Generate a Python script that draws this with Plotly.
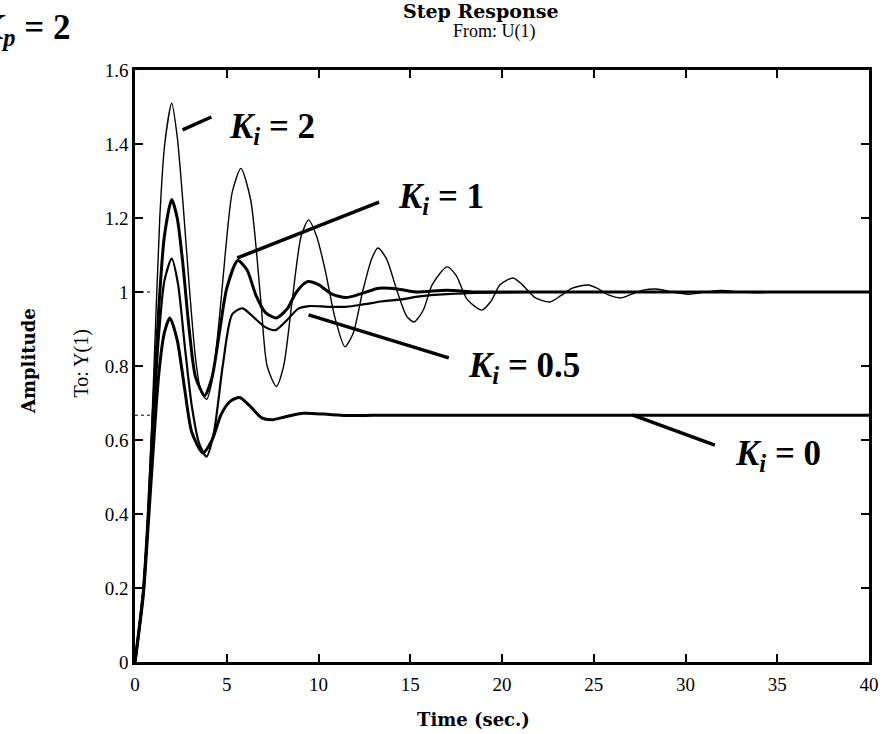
import plotly.graph_objects as go

# ---- data ----
t_ki2 = [0, 0.45, 0.72, 1.0, 1.35, 1.62, 2.0, 2.3, 2.6, 2.95, 3.3, 3.6, 3.9, 4.2, 4.6, 4.95, 5.3, 5.77,
         6.3, 6.85, 7.2, 7.7, 8.1, 8.55, 9.05, 9.46, 9.9, 10.36, 10.9, 11.44, 11.9, 12.4, 12.9, 13.24,
         13.7, 14.3, 14.8, 15.2, 15.7, 16.2, 17.0, 17.5, 18.1, 18.9, 19.4, 19.9, 20.6, 21.1, 21.8, 22.6,
         23.2, 23.8, 24.7, 25.2, 25.8, 26.5, 27.1, 27.7, 28.4, 29.3, 30.2, 31.1, 32.0, 33.0, 34.0, 35.5, 37, 40]
y_ki2 = [0, 0.2, 0.42, 0.75, 1.2, 1.4, 1.51, 1.42, 1.25, 1.02, 0.82, 0.73, 0.71, 0.76, 0.93, 1.12, 1.27, 1.334,
         1.25, 0.98, 0.8, 0.745, 0.8, 0.97, 1.15, 1.195, 1.15, 1.06, 0.93, 0.852, 0.89, 1.0, 1.09, 1.119,
         1.09, 1.0, 0.935, 0.919, 0.95, 1.02, 1.068, 1.045, 0.98, 0.951, 0.975, 1.02, 1.038, 1.02, 0.985, 0.973,
         0.99, 1.01, 1.019, 1.01, 0.992, 0.984, 0.995, 1.005, 1.008, 1.0, 0.994, 1.0, 1.004, 1.0, 0.998, 1.001, 1.0, 1.0]

t_ki1 = [0, 0.45, 0.72, 1.0, 1.3, 1.6, 2.0, 2.3, 2.6, 2.95, 3.3, 3.8, 4.2, 4.6, 5.0, 5.6, 6.1, 6.6, 7.1, 7.7,
         8.3, 8.8, 9.4, 10.0, 10.7, 11.5, 12.3, 13.3, 14.3, 15.3, 17.0, 18.5, 20, 25, 40]
y_ki1 = [0, 0.19, 0.4, 0.68, 0.96, 1.15, 1.25, 1.2, 1.08, 0.9, 0.77, 0.72, 0.77, 0.89, 1.01, 1.085, 1.06, 0.99, 0.945, 0.93,
         0.955, 1.0, 1.028, 1.02, 0.995, 0.985, 0.995, 1.01, 1.008, 1.0, 1.005, 1.0, 1.0, 1.0, 1.0]

t_ki05 = [0, 0.45, 0.72, 1.0, 1.3, 1.6, 2.0, 2.35, 2.7, 3.1, 3.5, 3.9, 4.3, 4.78, 5.3, 5.86, 6.5, 7.1, 7.66,
          8.3, 8.9, 9.5, 10.5, 11.5, 12.5, 13.5, 14.5, 15.5, 17, 19, 22, 40]
y_ki05 = [0, 0.19, 0.39, 0.64, 0.88, 1.03, 1.09, 1.02, 0.86, 0.69, 0.59, 0.555, 0.62, 0.8, 0.94, 0.956, 0.93, 0.905, 0.897,
          0.925, 0.955, 0.962, 0.96, 0.96, 0.967, 0.975, 0.98, 0.988, 0.994, 0.998, 1.0, 1.0]

t_ki0 = [0, 0.45, 0.72, 1.0, 1.3, 1.6, 1.9, 2.3, 2.7, 3.1, 3.7, 4.2, 4.7, 5.2, 5.7, 6.3, 6.9, 7.5, 8.2, 9.2,
         10.3, 11.5, 13, 40]
y_ki0 = [0, 0.18, 0.37, 0.58, 0.78, 0.89, 0.93, 0.87, 0.74, 0.62, 0.565, 0.6, 0.67, 0.705, 0.715, 0.69, 0.66, 0.655,
         0.663, 0.672, 0.67, 0.666, 0.667, 0.667]

steady_values = [1.0, 0.667]
steady_stub_t = [0, 1.0]

x_ticks = [0, 5, 10, 15, 20, 25, 30, 35, 40]
y_ticks = [0, 0.2, 0.4, 0.6, 0.8, 1.0, 1.2, 1.4, 1.6]
y_tick_text = ["0", "0.2", "0.4", "0.6", "0.8", "1", "1.2", "1.4", "1.6"]

labels = ["2", "1", "0.5", "0"]
label_pos = [(5.03, 1.443), (14.2, 1.254), (18.05, 0.795), (32.6, 0.557)]
pointer_from = [(2.59, 1.438), (5.57, 1.092), (9.46, 0.938), (27.1, 0.668)]
pointer_to = [(4.16, 1.473), (13.3, 1.243), (17.1, 0.822), (31.6, 0.586)]

# ---- figure ----
fig = go.Figure()
for yv in steady_values:
    fig.add_trace(go.Scatter(x=steady_stub_t, y=[yv, yv], mode="lines",
                             line=dict(color="black", width=1, dash="dot"), hoverinfo="skip"))

series = [(t_ki0, y_ki0, 3.0), (t_ki05, y_ki05, 2.2), (t_ki1, y_ki1, 3.0), (t_ki2, y_ki2, 1.4)]
for tx, ty, w in series:
    fig.add_trace(go.Scatter(x=tx, y=ty, mode="lines",
                             line=dict(color="black", width=w, shape="spline", smoothing=0.7)))

for (x0, y0), (x1, y1) in zip(pointer_from, pointer_to):
    fig.add_shape(type="line", xref="x", yref="y", x0=x0, y0=y0, x1=x1, y1=y1,
                  line=dict(color="black", width=3.5))

big = dict(family="Liberation Serif", size=35, color="black")
for lab, (lx, ly) in zip(labels, label_pos):
    fig.add_annotation(x=lx, y=ly, xref="x", yref="y", xanchor="left", yanchor="middle",
                       text=f"<b><i>K</i><sub><i>i</i></sub> = {lab}</b>", showarrow=False, font=big)

def px_x(p):
    return (p - 135) / 741.0

def px_y(p):
    return (662 - p) / 592.0

fig.add_annotation(x=px_x(72), y=px_y(6), xref="paper", yref="paper", xanchor="right", yanchor="top",
                   text="<b><i>K</i><sub><i>p</i></sub> = 2</b>", showarrow=False, font=big)

bold = dict(family="DejaVu Serif", size=18, color="black")
reg = dict(family="Liberation Serif", size=18, color="black")
fig.add_annotation(x=px_x(484), y=px_y(11), xref="paper", yref="paper", xanchor="center", yanchor="middle",
                   text="<b>Step Response</b>", showarrow=False, font=dict(family="DejaVu Serif", size=19, color="black"))
fig.add_annotation(x=px_x(498), y=px_y(31), xref="paper", yref="paper", xanchor="center", yanchor="middle",
                   text="From: U(1)", showarrow=False, font=reg)
fig.add_annotation(x=px_x(27), y=px_y(361), xref="paper", yref="paper", xanchor="center", yanchor="middle",
                   text="<b>Amplitude</b>", textangle=-90, showarrow=False, font=bold)
fig.add_annotation(x=px_x(80), y=px_y(364), xref="paper", yref="paper", xanchor="center", yanchor="middle",
                   text="To: Y(1)", textangle=-90, showarrow=False, font=dict(family="Liberation Serif", size=20, color="black"))
fig.add_annotation(x=px_x(477), y=px_y(719), xref="paper", yref="paper", xanchor="center", yanchor="middle",
                   text="<b>Time (sec.)</b>", showarrow=False, font=bold)

tickfont = dict(family="Liberation Serif", size=19, color="black")
fig.update_xaxes(range=[0, 40], tickvals=x_ticks, ticks="inside", ticklen=8, tickwidth=1.5, tickcolor="black",
                 showline=True, linewidth=2.5, linecolor="black", mirror="ticks", showgrid=False,
                 zeroline=False, tickfont=tickfont, ticklabelstandoff=3)
fig.update_yaxes(range=[0, 1.6], tickvals=y_ticks, ticktext=y_tick_text, ticks="inside", ticklen=8,
                 tickwidth=1.5, tickcolor="black", showline=True, linewidth=2.5, linecolor="black",
                 mirror="ticks", showgrid=False, zeroline=False, tickfont=tickfont)

fig.update_layout(width=891, height=734, margin=dict(l=135, r=15, t=70, b=72),
                  plot_bgcolor="white", paper_bgcolor="white", showlegend=False)

fig.write_html("out.html", config={"displayModeBar": False},
               post_script="document.body.style.margin='0';")
